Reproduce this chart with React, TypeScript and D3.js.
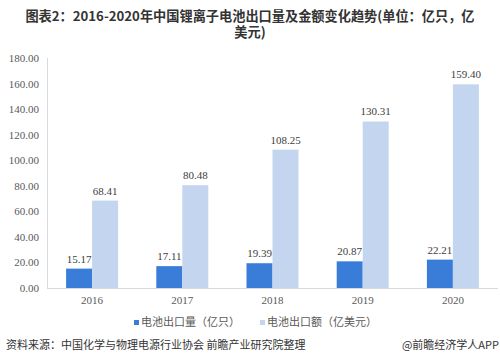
import * as d3 from "d3";

const years = ["2016", "2017", "2018", "2019", "2020"];
const volume = [15.17, 17.11, 19.39, 20.87, 22.21];
const amount = [68.41, 80.48, 108.25, 130.31, 159.4];
const yTicks = [0, 20, 40, 60, 80, 100, 120, 140, 160, 180];
const seriesNames = ["电池出口量（亿只）", "电池出口额（亿美元）"];
const titleLines = ["图表2：2016-2020年中国锂离子电池出口量及金额变化趋势(单位：亿只，亿", "美元)"];

const width = 500;
const height = 364;
const marginLeft = 47;
const marginRight = 2;
const marginTop = 58;
const marginBottom = 76;

const darkBlue = "#3a7dd9";
const lightBlue = "#c4d6ef";
const cjk = "'Noto Sans CJK SC', 'Noto Sans', sans-serif";
const serif = "'Liberation Serif', 'DejaVu Serif', serif";

export default function App() {
  const x = d3.scaleBand(years, [marginLeft, width - marginRight]);
  const y = d3.scaleLinear([0, 180], [height - marginBottom, marginTop]);
  const barW = 26;
  const series = [volume, amount];
  const colors = [darkBlue, lightBlue];

  return (
    <svg
      width={width}
      height={height}
      style={{ position: "absolute", left: 0, top: 0, background: "#fff" }}
    >
      <text textAnchor="middle" fontFamily={cjk} fontSize={13.2} fontWeight="bold" fill="#333">
        {titleLines.map((t, i) => (
          <tspan key={i} x={250} y={21 + i * 15.5}>{t}</tspan>
        ))}
      </text>

      {/* y axis */}
      <line x1={marginLeft + 0.5} x2={marginLeft + 0.5} y1={marginTop} y2={y(0)} stroke="#d9d9d9" />
      <line x1={marginLeft} x2={width - marginRight} y1={y(0) + 0.5} y2={y(0) + 0.5} stroke="#d9d9d9" />
      {yTicks.map((t) => (
        <text key={t} x={39} y={y(t) + 4} textAnchor="end" fontFamily={serif} fontSize={11} fill="#595959">
          {t.toFixed(2)}
        </text>
      ))}
      {years.map((yr) => (
        <text key={yr} x={x(yr)! + x.bandwidth() / 2} y={y(0) + 16} textAnchor="middle" fontFamily={serif} fontSize={11} fill="#595959">
          {yr}
        </text>
      ))}

      {series.map((vals, si) => (
        <g key={si}>
          {vals.map((v, i) => {
            const cx = x(years[i])! + x.bandwidth() / 2;
            const bx = si === 0 ? cx - barW : cx;
            return (
              <g key={i}>
                <rect x={bx} y={y(v)} width={barW} height={y(0) - y(v)} fill={colors[si]} />
                <text x={bx + barW / 2} y={y(v) - 6} textAnchor="middle" fontFamily={serif} fontSize={11} fill="#404040">
                  {v.toFixed(2)}
                </text>
              </g>
            );
          })}
        </g>
      ))}

      {/* legend */}
      <rect x={134} y={320} width={5} height={5} fill={darkBlue} />
      <text x={141} y={326} fontFamily={cjk} fontSize={11} fill="#595959">{seriesNames[0]}</text>
      <rect x={260} y={320} width={5} height={5} fill={lightBlue} />
      <text x={267} y={326} fontFamily={cjk} fontSize={11} fill="#595959">{seriesNames[1]}</text>

      <text x={6} y={349} fontFamily={cjk} fontSize={11} fill="#333">
        资料来源：中国化学与物理电源行业协会 前瞻产业研究院整理
      </text>
      <text x={499} y={349} textAnchor="end" fontFamily={cjk} fontSize={11} fill="#333">
        @前瞻经济学人APP
      </text>
    </svg>
  );
}
